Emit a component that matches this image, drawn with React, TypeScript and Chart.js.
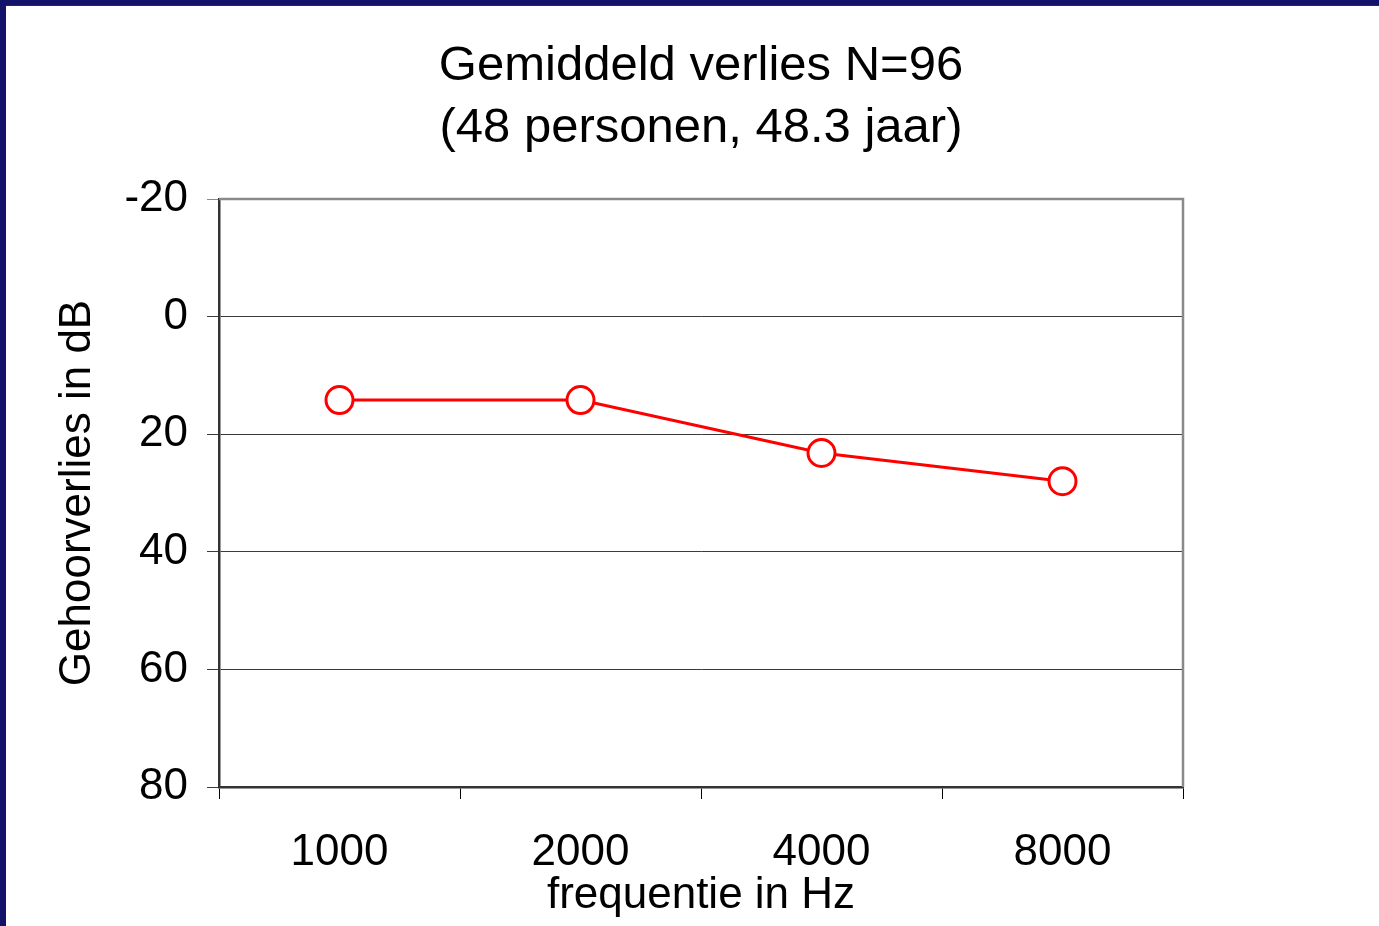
import React, { useEffect, useRef } from "react";
import { Chart, registerables } from "chart.js";

Chart.register(...registerables);

const titleLines = ["Gemiddeld verlies N=96", "(48 personen, 48.3 jaar)"];
const frequencies = ["1000", "2000", "4000", "8000"];
const lossValues = [14.2, 14.2, 23.2, 28.0];
const yMin = -20;
const yMax = 80;
const yStep = 20;
const xAxisTitle = "frequentie in Hz";
const yAxisTitle = "Gehoorverlies in dB";

const FONT = "'Liberation Sans', Arial, sans-serif";

const framePlugin = {
  id: "plotFrame",
  afterDraw(chart: any) {
    const { ctx, chartArea } = chart;
    ctx.save();
    ctx.strokeStyle = "#8a8a8a";
    ctx.lineWidth = 2.5;
    ctx.beginPath();
    ctx.moveTo(chartArea.left, chartArea.top);
    ctx.lineTo(chartArea.right, chartArea.top);
    ctx.lineTo(chartArea.right, chartArea.bottom);
    ctx.stroke();
    ctx.restore();
  },
};

export default function App() {
  const ref = useRef<HTMLCanvasElement | null>(null);

  useEffect(() => {
    if (!ref.current) return;
    const chart = new Chart(ref.current, {
      type: "line",
      data: {
        labels: frequencies,
        datasets: [
          {
            data: lossValues,
            borderColor: "#ff0000",
            borderWidth: 3,
            pointRadius: 13.5,
            pointBorderWidth: 3,
            pointBackgroundColor: "#ffffff",
            pointBorderColor: "#ff0000",
            tension: 0,
            yAxisID: "y",
          },
        ],
      },
      options: {
        responsive: false,
        animation: false,
        devicePixelRatio: 1,
        layout: { padding: { left: 23, right: 0, top: 0, bottom: 0 } },
        plugins: {
          legend: { display: false },
          tooltip: { enabled: false },
          title: {
            display: true,
            text: titleLines,
            color: "#000000",
            font: { family: FONT, size: 49, weight: "normal", lineHeight: "62px" },
            padding: { top: 35, bottom: 40 },
          },
        },
        scales: {
          x: {
            type: "category",
            offset: true,
            grid: {
              offset: true,
              drawOnChartArea: false,
              drawTicks: true,
              tickLength: 12,
              color: "#000000",
              lineWidth: 1,
            },
            border: { display: true, color: "#333333", width: 2.5 },
            ticks: {
              color: "#000000",
              font: { family: FONT, size: 44 },
              padding: 27,
              maxRotation: 0,
            },
            title: {
              display: true,
              text: xAxisTitle,
              color: "#000000",
              font: { family: FONT, size: 44 },
              padding: { top: 0, bottom: 4 },
            },
            afterFit(scale: any) {
              scale.height = 139;
            },
          },
          y: {
            type: "linear",
            position: "left",
            reverse: true,
            min: yMin,
            max: yMax,
            grid: {
              color: (c: any) => (c.tick && c.tick.value === yMin ? "#8a8a8a" : "#3a3a3a"),
              lineWidth: 1,
              tickLength: 12,
              drawTicks: true,
            },
            border: { display: true, color: "#333333", width: 2.5 },
            ticks: {
              stepSize: yStep,
              color: "#000000",
              font: { family: FONT, size: 44 },
              padding: 19,
            },
            title: {
              display: true,
              text: yAxisTitle,
              color: "#000000",
              font: { family: FONT, size: 44 },
              padding: { top: 28, bottom: 0 },
            },
            afterFit(scale: any) {
              scale.width = 196;
            },
          },
          yRightSpace: {
            type: "linear",
            position: "right",
            display: true,
            grid: { display: false, drawTicks: false },
            border: { display: false },
            ticks: { display: false },
            afterFit(scale: any) {
              scale.width = 196;
            },
          },
        },
      },
      plugins: [framePlugin],
    });
    return () => chart.destroy();
  }, []);

  return (
    <div
      style={{
        position: "fixed",
        left: 0,
        top: 0,
        width: 1379,
        height: 926,
        background: "#ffffff",
        overflow: "hidden",
      }}
    >
      <canvas ref={ref} width={1379} height={926} style={{ position: "absolute", left: 0, top: 0, width: 1379, height: 926 }} />
      <div style={{ position: "absolute", left: 0, top: 0, width: 1379, height: 5, background: "#12126a", borderBottom: "1px solid #2a2a3a" }} />
      <div style={{ position: "absolute", left: 0, top: 0, width: 6, height: 926, background: "#12126a" }} />
    </div>
  );
}
